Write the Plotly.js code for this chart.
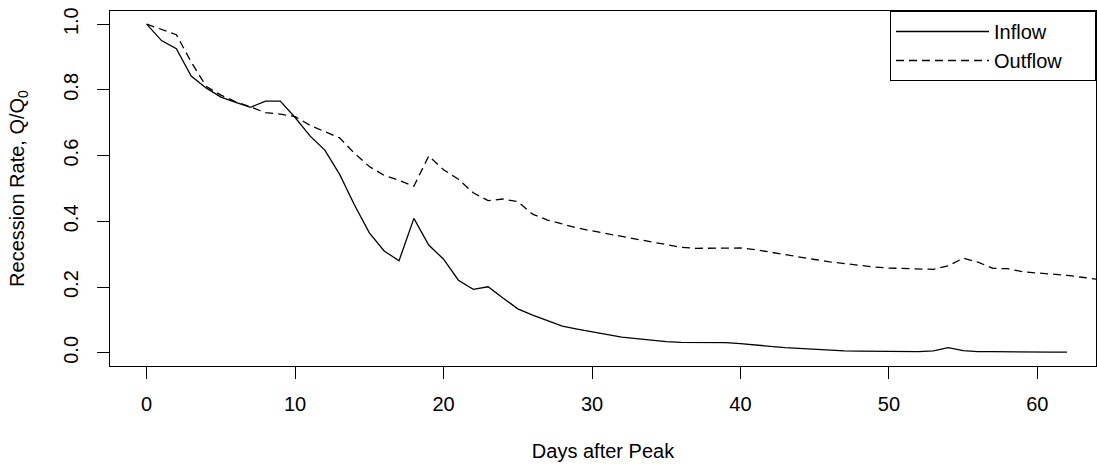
<!DOCTYPE html>
<html>
<head>
<meta charset="utf-8">
<script src="https://cdn.plot.ly/plotly-3.0.1.min.js"></script>
<style>
html,body{margin:0;padding:0;background:#fff;overflow:hidden;}
#chart{width:1097px;height:466px;}
</style>
</head>
<body>
<div id="chart"></div>
<script>
// Days after peak
const inflowDays = [0,1,2,3,4,5,6,7,8,9,10,11,12,13,14,15,16,17,18,19,20,21,22,23,24,25,26,27,28,29,30,31,32,33,34,35,36,37,38,39,40,41,42,43,44,45,46,47,48,49,50,51,52,53,54,55,56,57,58,59,60,61,62];
const inflowRate = [1.000,0.950,0.925,0.842,0.806,0.778,0.762,0.747,0.766,0.766,0.716,0.660,0.617,0.543,0.450,0.365,0.310,0.280,0.409,0.328,0.285,0.221,0.193,0.201,0.167,0.134,0.115,0.097,0.081,0.072,0.064,0.055,0.048,0.043,0.038,0.034,0.032,0.032,0.032,0.031,0.028,0.023,0.020,0.016,0.013,0.010,0.008,0.006,0.005,0.005,0.004,0.003,0.004,0.006,0.016,0.007,0.004,0.004,0.003,0.003,0.002,0.002,0.002];
const outflowDays = [0,1,2,3,4,5,6,7,8,9,10,11,12,13,14,15,16,17,18,19,20,21,22,23,24,25,26,27,28,29,30,31,32,33,34,35,36,37,38,39,40,41,42,43,44,45,46,47,48,49,50,51,52,53,54,55,56,57,58,59,60,61,62,63,64];
const outflowRate = [1.000,0.985,0.968,0.885,0.811,0.784,0.764,0.748,0.731,0.726,0.719,0.692,0.672,0.654,0.607,0.567,0.540,0.525,0.507,0.599,0.557,0.528,0.487,0.463,0.468,0.460,0.422,0.404,0.392,0.380,0.371,0.363,0.354,0.345,0.337,0.329,0.321,0.318,0.318,0.318,0.319,0.314,0.306,0.298,0.290,0.284,0.277,0.271,0.265,0.261,0.258,0.256,0.254,0.254,0.265,0.288,0.276,0.257,0.256,0.247,0.243,0.240,0.236,0.230,0.224];
const xTicks = [0,10,20,30,40,50,60];
const yTicks = [0,0.2,0.4,0.6,0.8,1.0];
const seriesNames = ['Inflow','Outflow'];

// trailing no-break spaces only widen the legend box (as in the reference)
const pad = '\u00a0\u00a0\u00a0\u00a0\u00a0';

const traces = [
  {x: inflowDays, y: inflowRate, name: seriesNames[0], type: 'scatter', mode: 'lines',
   line: {color: '#000', width: 1.3, dash: 'solid'}},
  {x: outflowDays, y: outflowRate, name: seriesNames[1] + pad, type: 'scatter', mode: 'lines',
   line: {color: '#000', width: 1.3, dash: '8px,5px'}}
];

const layout = {
  width: 1097, height: 466,
  margin: {l: 110, r: 1, t: 11, b: 100, pad: 0},
  paper_bgcolor: '#fff', plot_bgcolor: '#fff',
  font: {family: '"Liberation Sans", Arial, Helvetica, sans-serif', size: 20, color: '#000'},
  showlegend: true,
  legend: {x: 1, xanchor: 'right', y: 1, yanchor: 'top', bgcolor: '#fff',
           bordercolor: '#000', borderwidth: 1, font: {size: 20}, itemwidth: 93,
           tracegroupgap: 0},
  xaxis: {
    range: [-2.47, 63.95], tickvals: xTicks, ticktext: xTicks.map(String),
    ticks: 'outside', ticklen: 12, tickwidth: 1, tickcolor: '#000',
    showline: true, mirror: true, linecolor: '#000', linewidth: 1,
    showgrid: false, zeroline: false, automargin: false,
    ticklabelstandoff: 8,
    title: {text: 'Days after Peak', font: {size: 20}, standoff: 29}
  },
  yaxis: {
    range: [-0.04, 1.04], tickvals: yTicks, ticktext: yTicks.map(v => v.toFixed(1)),
    ticks: 'outside', ticklen: 12, tickwidth: 1, tickcolor: '#000', tickangle: -90,
    showline: true, mirror: true, linecolor: '#000', linewidth: 1,
    showgrid: false, zeroline: false, automargin: false,
    ticklabelstandoff: 11,
    title: {text: 'Recession Rate, Q/Q<sub>0</sub>', font: {size: 20}, standoff: 30}
  }
};

Plotly.newPlot('chart', traces, layout, {displayModeBar: false, staticPlot: true});
</script>
</body>
</html>
